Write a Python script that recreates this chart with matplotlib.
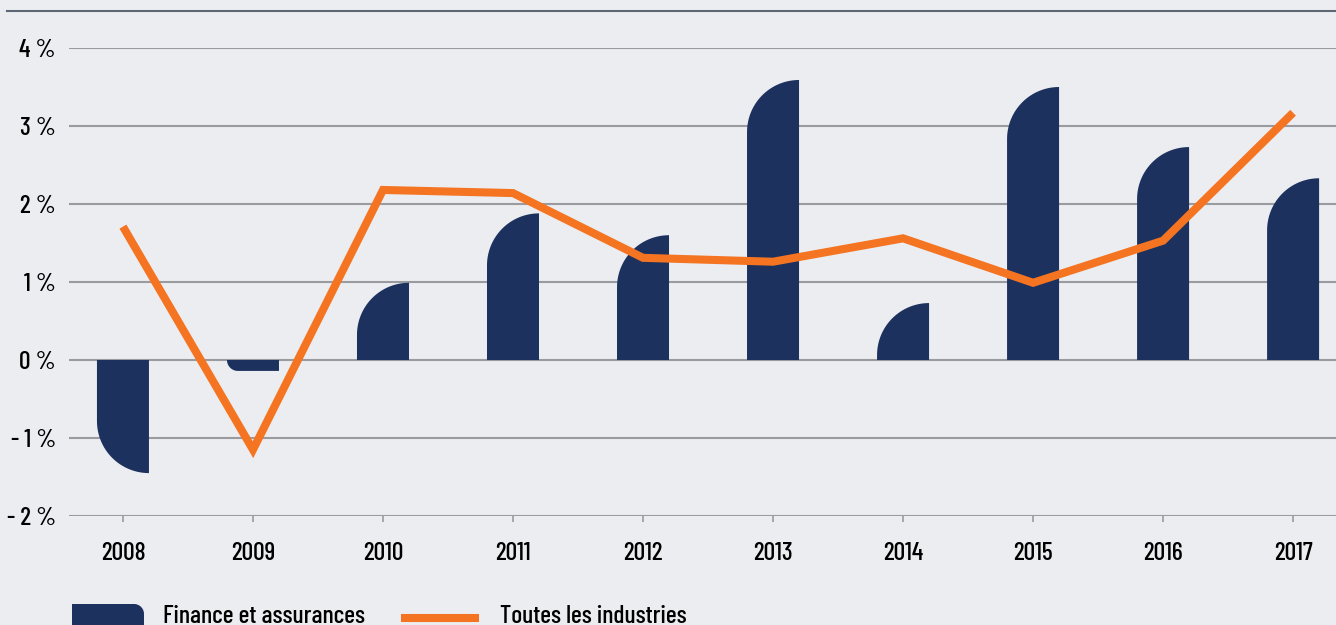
import numpy as np
import matplotlib
matplotlib.use("Agg")
import matplotlib.pyplot as plt
from matplotlib.path import Path
from matplotlib.patches import PathPatch

# data (%)
years = [2008, 2009, 2010, 2011, 2012, 2013, 2014, 2015, 2016, 2017]
finance = [-1.45, -0.14, 0.99, 1.88, 1.60, 3.59, 0.73, 3.50, 2.73, 2.33]
toutes = [1.71, -1.15, 2.18, 2.14, 1.31, 1.26, 1.56, 0.99, 1.53, 3.17]
yticks = [-2, -1, 0, 1, 2, 3, 4]
ytick_labels = ["- 2 %", "- 1 %", "0 %", "1 %", "2 %", "3 %", "4 %"]
legend_labels = ["Finance et assurances", "Toutes les industries"]

bg = "#ECEDF1"
navy = "#1C315E"
orange = "#F47421"
grid_col = "#9A9B9E"
fonts = ["Barlow Condensed", "DejaVu Sans"]
fs = 18.5
fw = 500

W, H = 1336, 625
fig = plt.figure(figsize=(W / 100, H / 100), dpi=100, facecolor=bg)

# axes placed in pixels
left, right, bottom, top = 69, 1336, 516, 48
ax = fig.add_axes([left / W, (H - bottom) / H, (right - left) / W, (bottom - top) / H])
ax.set_facecolor(bg)
xlo, xhi = -0.415, 9.33
ax.set_xlim(xlo, xhi)
ax.set_ylim(-2, 4)

px_x = (right - left) / (xhi - xlo)   # pixels per x unit
px_y = (bottom - top) / 6.0            # pixels per 1 %

for v in yticks:
    ax.axhline(v, color=grid_col, lw=1.5, zorder=1)

# bars with one rounded corner (top-left for positive, bottom-left for negative)
bw = 0.4
for i, v in enumerate(finance):
    x0, x1 = i - bw / 2, i + bw / 2
    r = min(bw * px_x, abs(v) * px_y)
    rx, ry = r / px_x, r / px_y
    s = 1 if v >= 0 else -1
    t = np.linspace(np.pi, np.pi / 2, 30)
    arc = [(x0 + rx + rx * np.cos(a), v - s * ry + s * ry * np.sin(a)) for a in t]
    verts = [(x0, 0)] + arc + [(x1, v), (x1, 0), (x0, 0)]
    codes = [Path.MOVETO] + [Path.LINETO] * (len(verts) - 2) + [Path.CLOSEPOLY]
    ax.add_patch(PathPatch(Path(verts, codes), facecolor=navy, edgecolor="none", zorder=2))

ax.plot(range(len(years)), toutes, color=orange, lw=5.8, zorder=3,
        solid_joinstyle="miter", solid_capstyle="butt")

ax.set_xticks(range(len(years)))
ax.set_xticklabels([str(y) for y in years], fontsize=fs, family=fonts, weight=fw)
ax.set_yticks(yticks)
ax.set_yticklabels(ytick_labels, fontsize=fs, family=fonts, weight=fw)
ax.tick_params(axis="x", length=4, width=1.2, color=grid_col, pad=14.5)
ax.tick_params(axis="y", length=0, pad=9.4)
for s in ax.spines.values():
    s.set_visible(False)

# overlay in pixel coordinates for the top rule and the legend
ov = fig.add_axes([0, 0, 1, 1])
ov.set_xlim(0, W)
ov.set_ylim(H, 0)
ov.axis("off")
ov.patch.set_alpha(0)
ov.plot([7, W], [11, 11], color="#5E6874", lw=1.5)

# legend box with rounded top-right corner
bx0, bx1, by0, by1, rr = 72, 144, 604, 630, 10
t = np.linspace(np.pi / 2, 0, 20)
arc = [(bx1 - rr + rr * np.cos(a), by0 + rr - rr * np.sin(a)) for a in t]
verts = [(bx0, by1), (bx0, by0)] + arc + [(bx1, by1), (bx0, by1)]
codes = [Path.MOVETO] + [Path.LINETO] * (len(verts) - 2) + [Path.CLOSEPOLY]
ov.add_patch(PathPatch(Path(verts, codes), facecolor=navy, edgecolor="none", clip_on=False))
ov.text(163, 623, legend_labels[0], fontsize=fs, family=fonts, weight=fw, va="baseline", ha="left")
ov.plot([401, 479], [618, 618], color=orange, lw=5.8, solid_capstyle="butt")
ov.text(500, 623, legend_labels[1], fontsize=fs, family=fonts, weight=fw, va="baseline", ha="left")

fig.savefig("out.png", dpi=100, facecolor=bg)
